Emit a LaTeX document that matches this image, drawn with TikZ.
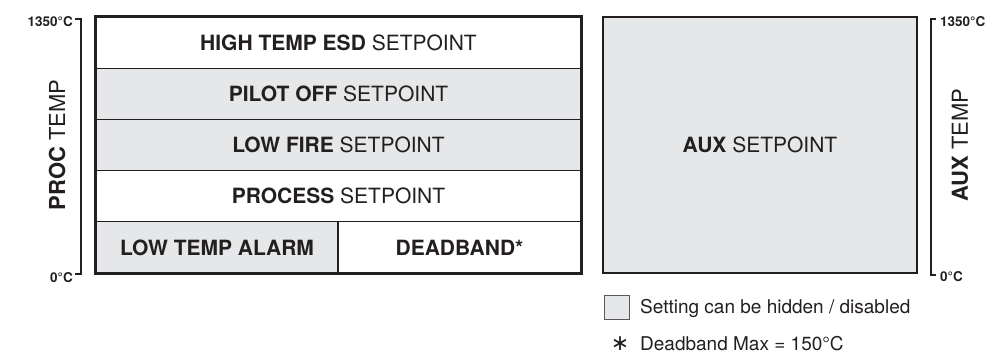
\documentclass[tikz,border=0pt]{standalone}
\usepackage{fontspec}
\setmainfont{TeX Gyre Heros}
\newfontfamily\symfont{DejaVu Sans}
\definecolor{ink}{HTML}{231F20}
\definecolor{shade}{HTML}{E6E7E8}
\tikzset{
  cell/.style={draw=ink, line width=1.2pt, minimum height=51.2pt, inner sep=0pt, text=ink, font=\fontsize{21}{25}\selectfont},
  frame/.style={draw=ink, line width=2.6pt},
  axis/.style={draw=ink, line width=1.3pt},
  scalelbl/.style={text=ink, font=\fontsize{13.5}{15}\selectfont\bfseries, inner sep=0pt},
  axlbl/.style={text=ink, font=\fontsize{22}{26}\selectfont, rotate=90, inner sep=0pt},
  legendtxt/.style={text=ink, font=\fontsize{19}{22}\selectfont, inner sep=0pt},
}
\begin{document}
\begin{tikzpicture}[x=1pt,y=-1pt]
\useasboundingbox (0,0) rectangle (997,354);
% left stack of settings
\node[cell, fill=white, minimum width=485pt] (r1) at (338.5,42.6) {\textbf{HIGH TEMP ESD} SETPOINT};
\node[cell, fill=shade, minimum width=485pt] (r2) at (338.5,93.8) {\textbf{PILOT OFF} SETPOINT};
\node[cell, fill=shade, minimum width=485pt] (r3) at (338.5,145.0) {\textbf{LOW FIRE} SETPOINT};
\node[cell, fill=white, minimum width=485pt] (r4) at (338.5,196.2) {\textbf{PROCESS} SETPOINT};
\node[cell, fill=shade, minimum width=242pt] (r5a) at (217,247.4) {\textbf{LOW TEMP ALARM}};
\node[cell, fill=white, minimum width=243pt] (r5b) at (459.5,247.4) {\textbf{DEADBAND*}};
\draw[frame] (r1.north west) rectangle (r5b.south east);
% right box
\node[draw=ink, line width=2.2pt, fill=shade, minimum width=314pt, minimum height=256pt, inner sep=0pt,
      text=ink, font=\fontsize{21}{25}\selectfont] (aux) at (760,145) {\textbf{AUX} SETPOINT};
% left axis
\coordinate (lat) at (81,19);
\coordinate (lab) at (81,274);
\coordinate (latk) at (75,19);
\coordinate (labk) at (75,274);
\draw[axis] (latk) -- (lat) -- (lab) -- (labk);
\node[scalelbl, anchor=east] (lhi) at (73,22) {1350°C};
\node[scalelbl, anchor=east] (llo) at (73,277.5) {0°C};
\node[axlbl] (proc) at (57,145) {\textbf{PROC} TEMP};
% right axis
\coordinate (rat) at (931,19);
\coordinate (rab) at (931,275);
\coordinate (ratk) at (936,19);
\coordinate (rabk) at (936,275);
\draw[axis] (ratk) -- (rat) -- (rab) -- (rabk);
\node[scalelbl, anchor=west] (rhi) at (940,22) {1350°C};
\node[scalelbl, anchor=west] (rlo) at (940,276.5) {0°C};
\node[axlbl] (auxt) at (960,145) {\textbf{AUX} TEMP};
% legend
\node[draw=ink!75, line width=1pt, fill=shade, minimum width=25pt, minimum height=24pt, inner sep=0pt] (lgbox) at (617,307) {};
\node[legendtxt, anchor=base west] (lgtxt) at (640,313) {Setting can be hidden / disabled};
\node[legendtxt, anchor=base] (ast) at (620,350) {\symfont\fontsize{22}{22}\selectfont ∗};
\node[legendtxt, anchor=base west] (dbtxt) at (640,350) {Deadband Max = 150°C};
\end{tikzpicture}
\end{document}
